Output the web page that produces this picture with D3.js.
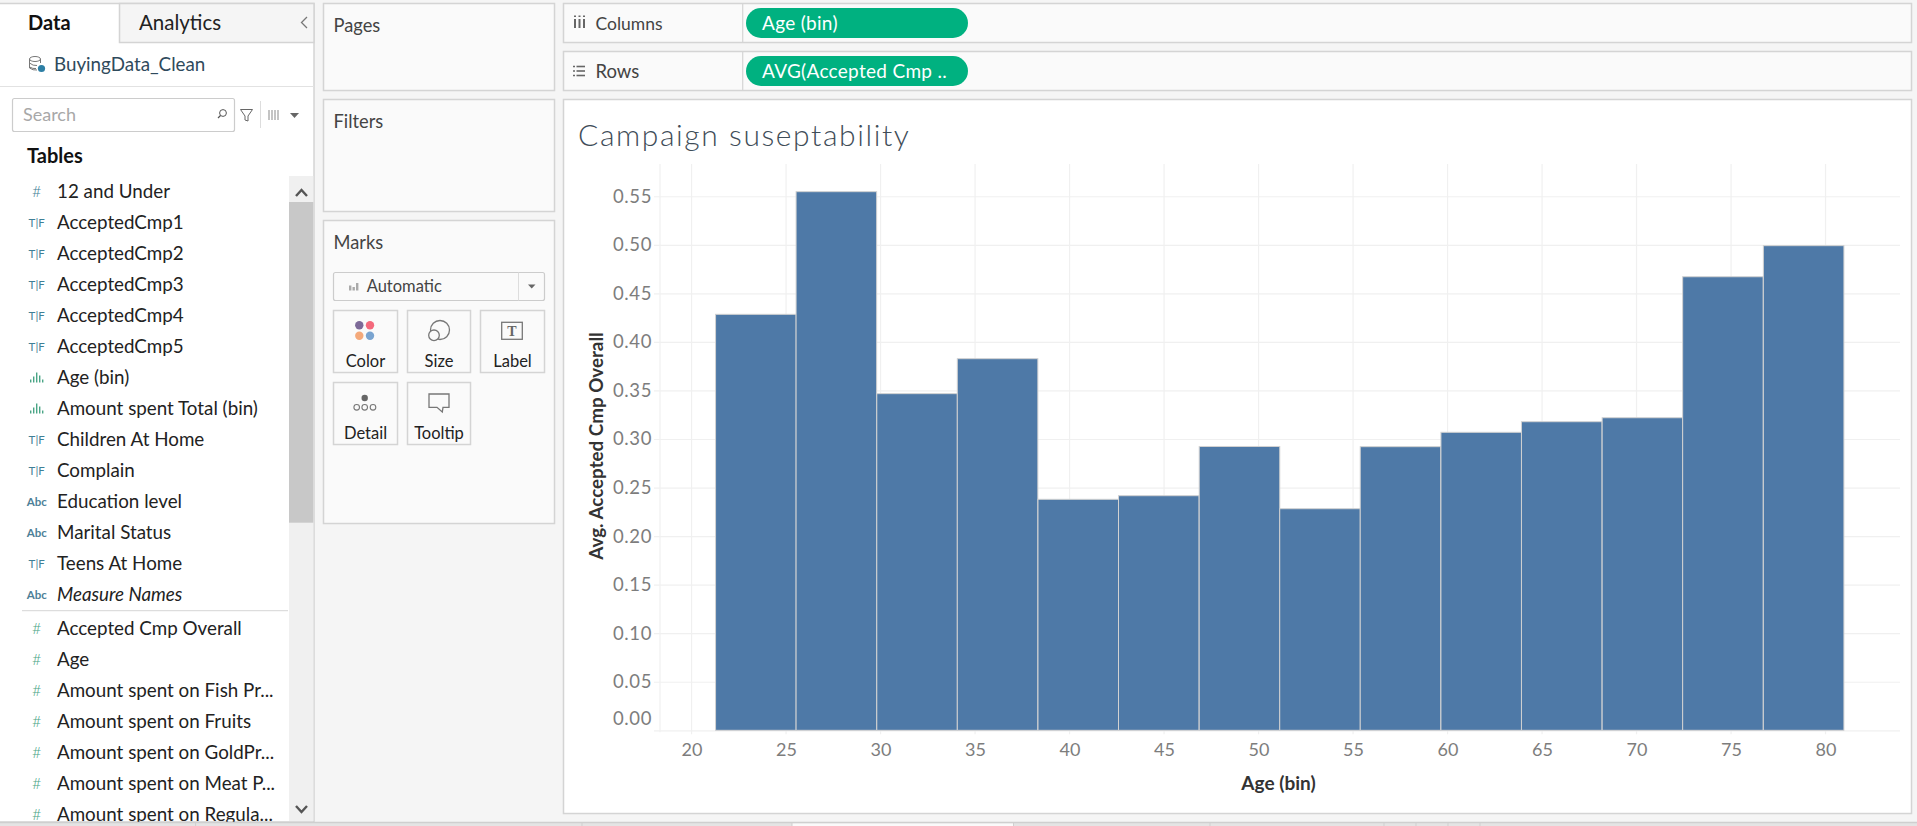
<!DOCTYPE html>
<html>
<head>
<meta charset="utf-8">
<script src="https://d3js.org/d3.v7.min.js"></script>
<style>
  html, body { margin: 0; padding: 0; background: #f5f5f5; overflow: hidden; }
  svg { display: block; font-family: Lato, "Open Sans", sans-serif; }
  .axis path { display: none; }
</style>
</head>
<body>
<div id="app"></div>
<script>
// chart values
const ageBins = [21.27, 25.53, 29.8, 34.06, 38.33, 42.59, 46.86, 51.12, 55.38, 59.65, 63.91, 68.18, 72.44, 76.71];
const avgAccepted = [0.4284, 0.5547, 0.3467, 0.3827, 0.2379, 0.2416, 0.2923, 0.2282, 0.2921, 0.3069, 0.3178, 0.3219, 0.4671, 0.4991];
const binSize = 4.263;
const xTicks = [20, 25, 30, 35, 40, 45, 50, 55, 60, 65, 70, 75, 80];
const yTicks = [0, 0.05, 0.1, 0.15, 0.2, 0.25, 0.3, 0.35, 0.4, 0.45, 0.5, 0.55];

// data pane field lists
const dimensionFields = ['12 and Under', 'AcceptedCmp1', 'AcceptedCmp2', 'AcceptedCmp3', 'AcceptedCmp4', 'AcceptedCmp5',
    'Age (bin)', 'Amount spent Total (bin)', 'Children At Home', 'Complain', 'Education level', 'Marital Status',
    'Teens At Home', 'Measure Names'];
const dimensionIcons = ['#', 'TF', 'TF', 'TF', 'TF', 'TF', 'bin', 'bin', 'TF', 'TF', 'Abc', 'Abc', 'TF', 'Abc'];
const measureFields = ['Accepted Cmp Overall', 'Age', 'Amount spent on Fish Pr...', 'Amount spent on Fruits',
    'Amount spent on GoldPr...', 'Amount spent on Meat P...', 'Amount spent on Regula...'];

const border = '#d4d4d4';
const panel = '#fafafa';
const textDark = '#333';

const svg = d3.select('#app').append('svg')
    .attr('width', 1917)
    .attr('height', 826);

function box(x0, y0, x1, y1, fill, stroke) {
    return svg.append('rect')
        .attr('x', x0).attr('y', y0)
        .attr('width', x1 - x0).attr('height', y1 - y0)
        .attr('fill', fill)
        .attr('stroke', stroke || 'none')
        .attr('stroke-width', 1.5);
}

function label(x, y, text, size, color, opts) {
    const o = opts || {};
    return svg.append('text')
        .attr('x', x).attr('y', y)
        .attr('dy', '0.35em')
        .attr('font-size', size)
        .attr('fill', color)
        .attr('font-weight', o.weight || 400)
        .attr('font-style', o.style || 'normal')
        .attr('text-anchor', o.anchor || 'start')
        .attr('letter-spacing', o.spacing || 0)
        .text(text);
}

function line(x0, y0, x1, y1, color, w) {
    return svg.append('line')
        .attr('x1', x0).attr('y1', y0).attr('x2', x1).attr('y2', y1)
        .attr('stroke', color)
        .attr('stroke-width', w || 1);
}

function fieldIcon(kind, cy, measure) {
    const color = measure ? '#4aa586' : '#3f7f96';
    if (kind === '#') {
        label(36.7, cy, '#', 16, color, {anchor: 'middle', weight: 300});
    } else if (kind === 'TF') {
        label(36.7, cy, 'T|F', 11.5, color, {anchor: 'middle'});
    } else if (kind === 'Abc') {
        label(36.7, cy, 'Abc', 11.5, '#4d7f98', {anchor: 'middle', weight: 700});
    } else {
        [[30, 3], [33, 6], [36, 10], [39, 7], [42, 3]].forEach(([bx, bh]) => {
            svg.append('rect').attr('x', bx).attr('y', cy + 5 - bh)
                .attr('width', 1.4).attr('height', bh).attr('fill', '#4aa586');
        });
    }
}

// left data pane
box(-2, 3.5, 314, 822, '#fff', border);
box(119.5, 3.5, 314, 42.5, '#f5f5f5', border);
label(28, 23, 'Data', 20, '#111', {weight: 700});
label(139, 23, 'Analytics', 20.5, '#222');
svg.append('path').attr('d', 'M307,17 L301.5,22.5 L307,28').attr('fill', 'none').attr('stroke', '#777').attr('stroke-width', 1.3);

// datasource glyph
svg.append('ellipse').attr('cx', 35).attr('cy', 59).attr('rx', 5.5).attr('ry', 2.5).attr('fill', 'none').attr('stroke', '#777');
svg.append('path').attr('d', 'M29.5,59 V68 Q33,70.5 37,70 M29.5,63 Q33,66 37,65.5 M29.5,67 Q33,69 36,68.5 M40.5,59 V63').attr('fill', 'none').attr('stroke', '#777');
svg.append('circle').attr('cx', 41.5).attr('cy', 68.5).attr('r', 3.6).attr('fill', '#2d7fa5');
label(54, 64.5, 'BuyingData_Clean', 18.8, '#2f4a5c');
line(0, 86.5, 314, 86.5, '#e2e2e2', 1.2);

svg.append('rect').attr('x', 12.5).attr('y', 98.5).attr('width', 222).attr('height', 33).attr('rx', 2)
    .attr('fill', '#fff').attr('stroke', '#ccc').attr('stroke-width', 1.2);
label(23, 114.5, 'Search', 18, '#a8a8a8');
svg.append('circle').attr('cx', 223).attr('cy', 113).attr('r', 3.4).attr('fill', 'none').attr('stroke', '#555');
line(220.5, 115.5, 218, 118, '#555', 1.2);
svg.append('path').attr('d', 'M240.5,109.5 H252.5 L248,116 V121 L245,120 V116 Z').attr('fill', 'none').attr('stroke', '#666');
line(260.5, 101, 260.5, 128, '#ddd');
d3.range(5).forEach(i => line(268, 111 + i * 2, 280, 111 + i * 2, '#888', 1).attr('stroke-dasharray', '2 1'));
svg.append('path').attr('d', 'M290,113 H299 L294.5,118 Z').attr('fill', '#666');
label(27, 156, 'Tables', 20, '#111', {weight: 700});

// field rows
dimensionFields.forEach((name, i) => {
    const cy = 191.5 + i * 31;
    fieldIcon(dimensionIcons[i], cy, i === 6 || i === 7);
    label(57, cy, name, 18.8, '#222', {style: name === 'Measure Names' ? 'italic' : 'normal'});
});
line(22, 610.7, 288, 610.7, '#ddd', 1.2);
measureFields.forEach((name, i) => {
    const cy = 628.7 + i * 31;
    fieldIcon('#', cy, true);
    label(57, cy, name, 18.8, '#222');
});

// scrollbar
box(289, 176, 313.3, 821, '#f0f0f0');
box(289, 202, 313.3, 522.7, '#c8c8c8');
svg.append('path').attr('d', 'M296,196 L301.5,190 L307,196').attr('fill', 'none').attr('stroke', '#555').attr('stroke-width', 2.4);
svg.append('path').attr('d', 'M296,806 L301.5,812 L307,806').attr('fill', 'none').attr('stroke', '#555').attr('stroke-width', 2.4);

// pages, filters, marks
box(323.5, 3.5, 554.5, 90.5, panel, border);
box(323.5, 99.5, 554.5, 211.5, panel, border);
box(323.5, 220.5, 554.5, 523.5, panel, border);
label(333.5, 26, 'Pages', 18.3, '#444');
label(333.5, 121.8, 'Filters', 18.3, '#444');
label(333.5, 242.8, 'Marks', 18.3, '#444');

svg.append('rect').attr('x', 333.5).attr('y', 272.5).attr('width', 211).attr('height', 28).attr('rx', 2)
    .attr('fill', panel).attr('stroke', '#ccc').attr('stroke-width', 1.2);
line(518.5, 272.5, 518.5, 300.5, '#ddd');
[[349, 5], [352.5, 3.5], [356, 7.5]].forEach(([bx, bh]) => {
    svg.append('rect').attr('x', bx).attr('y', 290.5 - bh).attr('width', 2.4).attr('height', bh).attr('fill', '#aaa');
});
label(366.7, 286.5, 'Automatic', 16.5, '#444');
svg.append('path').attr('d', 'M528,284.5 H535.5 L531.7,288.5 Z').attr('fill', '#666');

const markButtons = [
    {name: 'Color', x0: 333.5, x1: 397.5, y0: 310.5, y1: 372.5},
    {name: 'Size', x0: 407.5, x1: 470.5, y0: 310.5, y1: 372.5},
    {name: 'Label', x0: 480.5, x1: 544.5, y0: 310.5, y1: 372.5},
    {name: 'Detail', x0: 333.5, x1: 397.5, y0: 382.5, y1: 444.5},
    {name: 'Tooltip', x0: 407.5, x1: 470.5, y0: 382.5, y1: 444.5}
];
markButtons.forEach(b => {
    box(b.x0, b.y0, b.x1, b.y1, panel, border);
    label((b.x0 + b.x1) / 2, b.y1 - 11.7, b.name, 16.5, '#222', {anchor: 'middle'});
});

[[359.3, 325.3, '#7d6a98'], [370, 325.3, '#f4697c'], [359.3, 335.7, '#f4a97a'], [370, 335.7, '#7aa4d0']].forEach(([cx, cy, c]) => {
    svg.append('circle').attr('cx', cx).attr('cy', cy).attr('r', 4.2).attr('fill', c);
});
svg.append('circle').attr('cx', 440).attr('cy', 330).attr('r', 9.5).attr('fill', 'none').attr('stroke', '#777').attr('stroke-width', 1.3);
svg.append('circle').attr('cx', 434).attr('cy', 335.3).attr('r', 5.3).attr('fill', panel).attr('stroke', '#777').attr('stroke-width', 1.3);
svg.append('rect').attr('x', 501.7).attr('y', 322.3).attr('width', 20.6).attr('height', 17).attr('fill', 'none').attr('stroke', '#777').attr('stroke-width', 1.3);
svg.append('text').attr('x', 512).attr('y', 336).attr('text-anchor', 'middle').attr('font-family', 'Liberation Serif').attr('font-weight', 700).attr('font-size', 14).attr('fill', '#666').text('T');
svg.append('circle').attr('cx', 364.7).attr('cy', 398).attr('r', 3.2).attr('fill', '#666');
[356.7, 364.7, 373].forEach(cx => {
    svg.append('circle').attr('cx', cx).attr('cy', 407.3).attr('r', 2.8).attr('fill', 'none').attr('stroke', '#777').attr('stroke-width', 1.1);
});
svg.append('path').attr('d', 'M429,394 H449 V407.3 H443 L442.3,412 L437,407.3 H429 Z').attr('fill', 'none').attr('stroke', '#777').attr('stroke-width', 1.3);

// shelves
box(563.5, 3.5, 1911.5, 42.5, panel, border);
box(563.5, 51.5, 1911.5, 90.5, panel, border);
line(742.7, 3.5, 742.7, 42.5, border, 1.2);
line(742.7, 51.5, 742.7, 90.5, border, 1.2);
[575, 579.5, 584].forEach(lx => {
    line(lx, 19, lx, 28, '#666', 2);
    line(lx, 15.5, lx, 17, '#666', 2);
});
d3.range(3).forEach(i => {
    line(573, 66.5 + i * 4.5, 575, 66.5 + i * 4.5, '#666', 1.6);
    line(576.5, 66.5 + i * 4.5, 585, 66.5 + i * 4.5, '#666', 1.6);
});
label(595.5, 23.5, 'Columns', 17.5, '#444');
label(595.5, 71.5, 'Rows', 18.5, '#444');

[[8, 'Age (bin)'], [56, 'AVG(Accepted Cmp ..']].forEach(([py, name]) => {
    svg.append('rect').attr('x', 746).attr('y', py).attr('width', 222).attr('height', 30).attr('rx', 15).attr('fill', '#00b180');
    label(762, py + 15.5, name, 19, '#fff', {spacing: 0.3});
});

// view
box(563.5, 99.5, 1911.5, 813.5, '#fff', border);
label(578, 135, 'Campaign suseptability', 30, '#3f4d58', {weight: 300, spacing: 1.6});

// pane extents: left edge 660, right edge 1900, top 164, baseline 730.3
const x = d3.scaleLinear().domain([18.33, 83.94]).range([660, 1900]);
const y = d3.scaleLinear().domain([0, 0.5832]).range([730.3, 164]);

const gridColor = '#f0f0f0';
const tickColor = '#7d7d7d';

const yAxis = d3.axisLeft(y)
    .tickValues(yTicks)
    .tickFormat(d3.format('.2f'))
    .tickSize(1246)
    .tickPadding(-1238);

const xAxis = d3.axisBottom(x)
    .tickValues(xTicks)
    .tickFormat(d3.format('d'))
    .tickSizeOuter(0)
    .tickSize(0)
    .tickPadding(13);

// horizontal gridlines run out to the right edge, with short ticks at the left
const yG = svg.append('g')
    .attr('class', 'axis')
    .attr('transform', 'translate(1900,0)')
    .call(yAxis);
yG.selectAll('line').attr('stroke', gridColor).attr('stroke-width', 1.2);
yG.selectAll('text')
    .attr('font-size', 18.5)
    .attr('letter-spacing', 0.6)
    .attr('font-family', 'Lato')
    .attr('fill', tickColor)
    .attr('x', 652 - 1900)
    .attr('text-anchor', 'end');
yG.selectAll('.tick').filter(d => d === 0).select('text').attr('dy', '-0.33em');

const xG = svg.append('g')
    .attr('class', 'axis')
    .attr('transform', `translate(0,${y(0)})`)
    .call(xAxis);
xG.selectAll('text')
    .attr('font-size', 18)
    .attr('font-family', 'Lato')
    .attr('fill', tickColor);

const xGrid = svg.append('g')
    .attr('stroke', gridColor)
    .attr('stroke-width', 1.2);
xGrid.selectAll('line')
    .data(xTicks)
    .join('line')
    .attr('x1', d => x(d)).attr('x2', d => x(d))
    .attr('y1', y.range()[1]).attr('y2', y(0) + 4);
line(660, y.range()[1], 660, y(0) + 2, gridColor, 1.2);

svg.append('g')
    .selectAll('rect')
    .data(ageBins)
    .join('rect')
    .attr('x', d => x(d))
    .attr('width', d => x(d + binSize) - x(d))
    .attr('y', (d, i) => y(avgAccepted[i]))
    .attr('height', (d, i) => y(0) - y(avgAccepted[i]))
    .attr('fill', '#4e79a7')
    .attr('stroke', '#d2d2d2')
    .attr('stroke-width', 1);

label(1278.5, 783, 'Age (bin)', 19, textDark, {weight: 700, anchor: 'middle'});
svg.append('text')
    .attr('transform', 'translate(596,446) rotate(-90)')
    .attr('dy', '0.35em')
    .attr('text-anchor', 'middle')
    .attr('font-size', 18.8)
    .attr('font-weight', 700)
    .attr('fill', textDark)
    .text('Avg. Accepted Cmp Overall');

// sheet tabs along the bottom
box(-2, 822.5, 1919, 828, '#e4e4e4');
line(0, 822.5, 1917, 822.5, '#cfcfcf', 1.5);
box(792, 823.5, 1013.5, 828, '#fafafa');
[195.6, 582, 792, 1013.5, 1210, 1384, 1416, 1448, 1480].forEach(tx => line(tx, 823, tx, 826, '#cfcfcf', 1));
</script>
</body>
</html>
